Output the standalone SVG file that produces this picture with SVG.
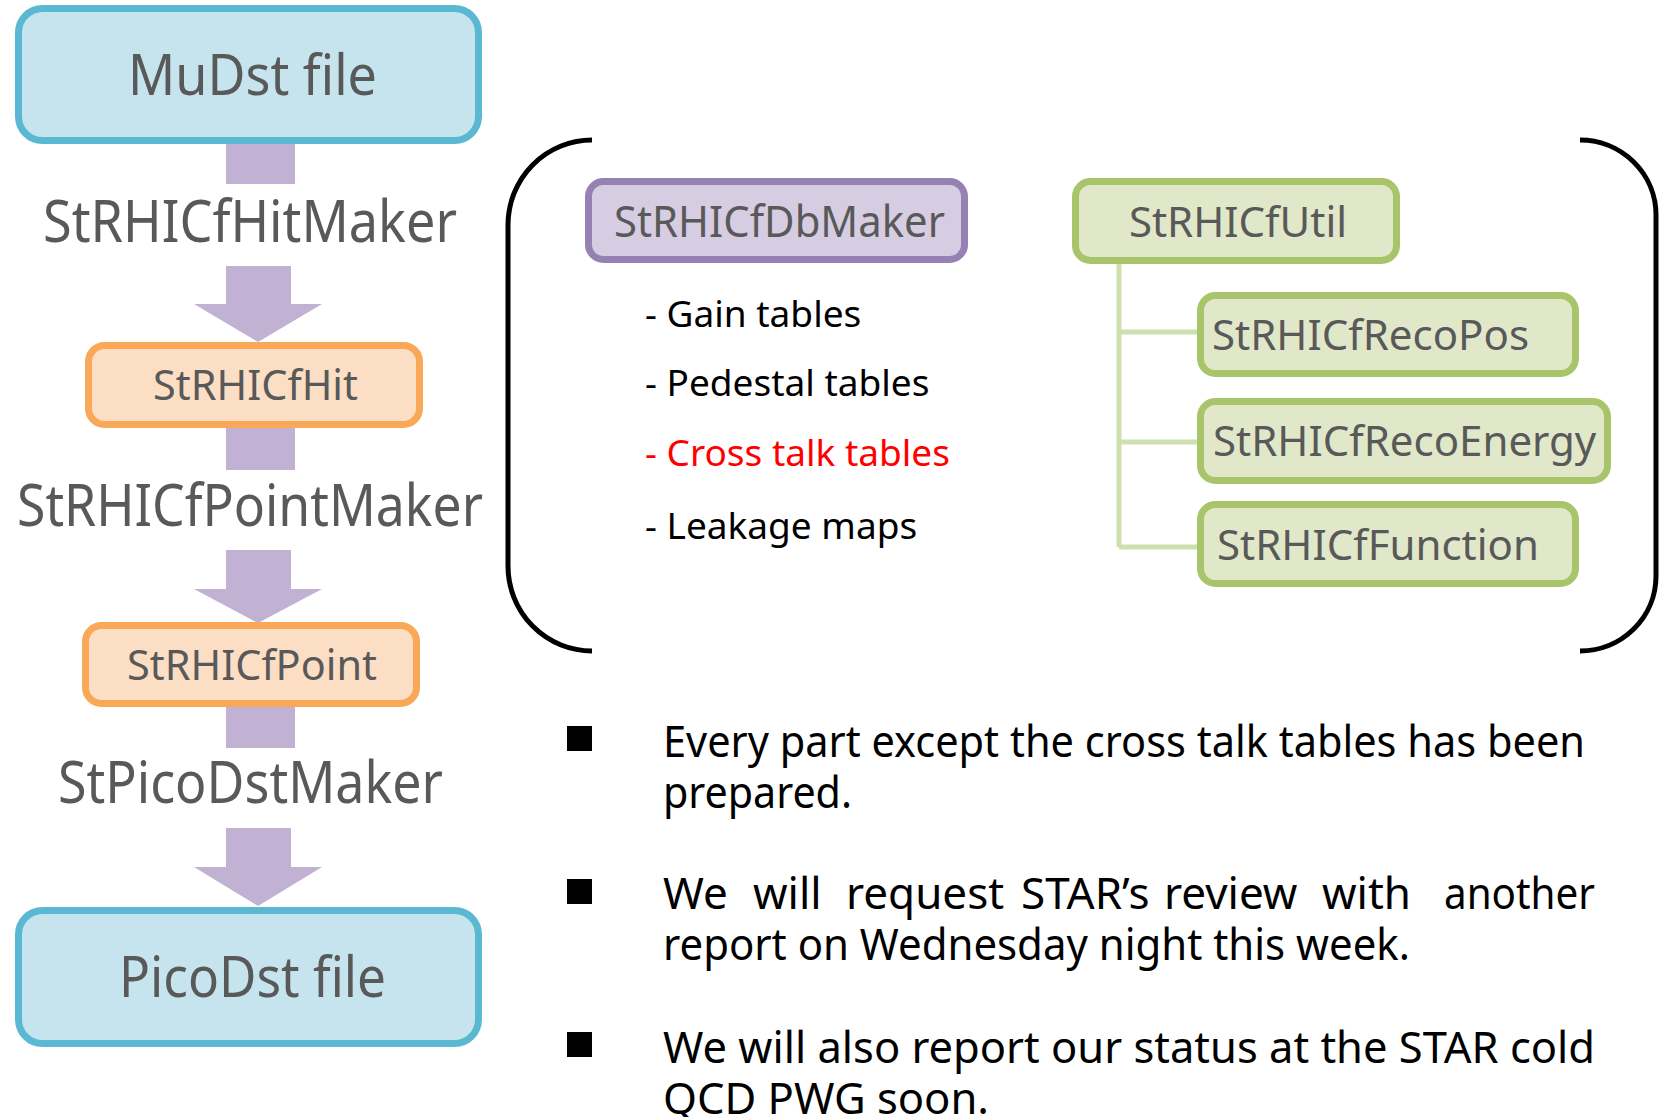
<svg xmlns="http://www.w3.org/2000/svg" width="1659" height="1117" viewBox="0 0 1659 1117">
  <style>
    .file { fill: #c5e4ed; stroke: #5bb8d2; stroke-width: 7; }
    .obj { fill: #fcdec4; stroke: #f9a857; stroke-width: 7; }
    .db { fill: #d7cde3; stroke: #9681b5; stroke-width: 7; }
    .util { fill: #e0e8c9; stroke: #a9c56c; stroke-width: 7; }
    .flow { fill: #c1b1d2; }
    .tree { fill: none; stroke: #cfe0b0; stroke-width: 5; }
    .brace { fill: none; stroke: #000; stroke-width: 5; }
    .lbl { font-family: "Noto Sans", "Open Sans", sans-serif; fill: #595959; }
    .item { font-family: "Noto Sans", "Open Sans", sans-serif; font-size: 37px; fill: #000; }
    .note { font-family: "Noto Sans", "Open Sans", sans-serif; font-size: 44px; fill: #000; }
  </style>

  <!-- flow connectors between pipeline stages -->
  <g id="connectors">
    <rect class="flow" x="226" y="143" width="69" height="41"/>
    <polygon class="flow" points="226,266 291,266 291,304 322,304 258,342 194,304 226,304"/>
    <rect class="flow" x="226" y="428" width="69" height="42"/>
    <polygon class="flow" points="226,550 291,550 291,589 322,589 258,623 194,589 226,589"/>
    <rect class="flow" x="226" y="707" width="69" height="41"/>
    <polygon class="flow" points="226,828 291,828 291,867 322,867 258,906 194,867 226,867"/>
    <!-- StRHICfUtil tree -->
    <path class="tree" d="M1119,261 V547 M1119,332 H1201 M1119,442 H1201 M1119,547 H1201"/>
  </g>

  <!-- pipeline -->
  <g id="mudst">
    <rect class="file" x="18.5" y="8.5" width="460" height="132" rx="24"/>
    <text class="lbl" x="128" y="95" font-size="56" textLength="249" lengthAdjust="spacingAndGlyphs">MuDst file</text>
  </g>
  <g id="hitmaker">
    <text class="lbl" x="43" y="242" font-size="58" textLength="414" lengthAdjust="spacingAndGlyphs">StRHICfHitMaker</text>
  </g>
  <g id="hit">
    <rect class="obj" x="88.5" y="345.5" width="331" height="79" rx="16"/>
    <text class="lbl" x="153" y="400" font-size="42" textLength="205" lengthAdjust="spacingAndGlyphs">StRHICfHit</text>
  </g>
  <g id="pointmaker">
    <text class="lbl" x="17" y="526" font-size="58" textLength="466" lengthAdjust="spacingAndGlyphs">StRHICfPointMaker</text>
  </g>
  <g id="point">
    <rect class="obj" x="85.5" y="625.5" width="331" height="78" rx="16"/>
    <text class="lbl" x="127" y="680" font-size="42" textLength="250" lengthAdjust="spacingAndGlyphs">StRHICfPoint</text>
  </g>
  <g id="picomaker">
    <text class="lbl" x="58" y="803" font-size="58" textLength="385" lengthAdjust="spacingAndGlyphs">StPicoDstMaker</text>
  </g>
  <g id="picodst">
    <rect class="file" x="18.5" y="910.5" width="460" height="133" rx="24"/>
    <text class="lbl" x="119" y="997" font-size="56" textLength="267" lengthAdjust="spacingAndGlyphs">PicoDst file</text>
  </g>

  <!-- brackets -->
  <g id="brackets">
    <path class="brace" d="M592,140 A84,85 0 0 0 508,225 V566 A84,85 0 0 0 592,651"/>
    <path class="brace" d="M1580,140 A76,75 0 0 1 1656,215 V576 A76,75 0 0 1 1580,651"/>
  </g>

  <!-- database maker -->
  <g id="dbmaker">
    <rect class="db" x="588.5" y="181.5" width="376" height="78" rx="15"/>
    <text class="lbl" x="614" y="237" font-size="43" textLength="331" lengthAdjust="spacingAndGlyphs">StRHICfDbMaker</text>
  </g>
  <g id="dbtables">
    <text class="item" x="645" y="327">- Gain tables</text>
    <text class="item" x="645" y="396">- Pedestal tables</text>
    <text class="item" x="645" y="466" style="fill:#ff0000">- Cross talk tables</text>
    <text class="item" x="645" y="539">- Leakage maps</text>
  </g>

  <!-- utility classes -->
  <g id="util">
    <rect class="util" x="1075.5" y="181.5" width="321" height="79" rx="15"/>
    <text class="lbl" x="1238" y="237" font-size="42" text-anchor="middle">StRHICfUtil</text>
  </g>
  <g id="recopos">
    <rect class="util" x="1200.5" y="295.5" width="375" height="78" rx="15"/>
    <text class="lbl" x="1212" y="350" font-size="42">StRHICfRecoPos</text>
  </g>
  <g id="recoenergy">
    <rect class="util" x="1200.5" y="401.5" width="407" height="79" rx="15"/>
    <text class="lbl" x="1213" y="456" font-size="42">StRHICfRecoEnergy</text>
  </g>
  <g id="function">
    <rect class="util" x="1200.5" y="504.5" width="375" height="79" rx="15"/>
    <text class="lbl" x="1217" y="560" font-size="42">StRHICfFunction</text>
  </g>

  <!-- status notes -->
  <g id="notes">
    <rect x="567" y="726" width="25" height="25"/>
    <text class="note" x="663" y="757" textLength="922" lengthAdjust="spacingAndGlyphs">Every part except the cross talk tables has been</text>
    <text class="note" x="663" y="808" textLength="189" lengthAdjust="spacingAndGlyphs">prepared.</text>
    <rect x="567" y="879" width="25" height="25"/>
    <text class="note" y="909"><tspan x="663">We</tspan><tspan x="753">will</tspan><tspan x="846">request</tspan><tspan x="1021">STAR’s</tspan><tspan x="1164">review</tspan><tspan x="1322">with</tspan><tspan x="1444" textLength="151" lengthAdjust="spacingAndGlyphs">another</tspan></text>
    <text class="note" x="663" y="960" textLength="747" lengthAdjust="spacingAndGlyphs">report on Wednesday night this week.</text>
    <rect x="567" y="1032" width="25" height="25"/>
    <text class="note" x="663" y="1063" textLength="932" lengthAdjust="spacingAndGlyphs">We will also report our status at the STAR cold</text>
    <text class="note" x="663" y="1114" textLength="326" lengthAdjust="spacingAndGlyphs">QCD PWG soon.</text>
  </g>
</svg>
